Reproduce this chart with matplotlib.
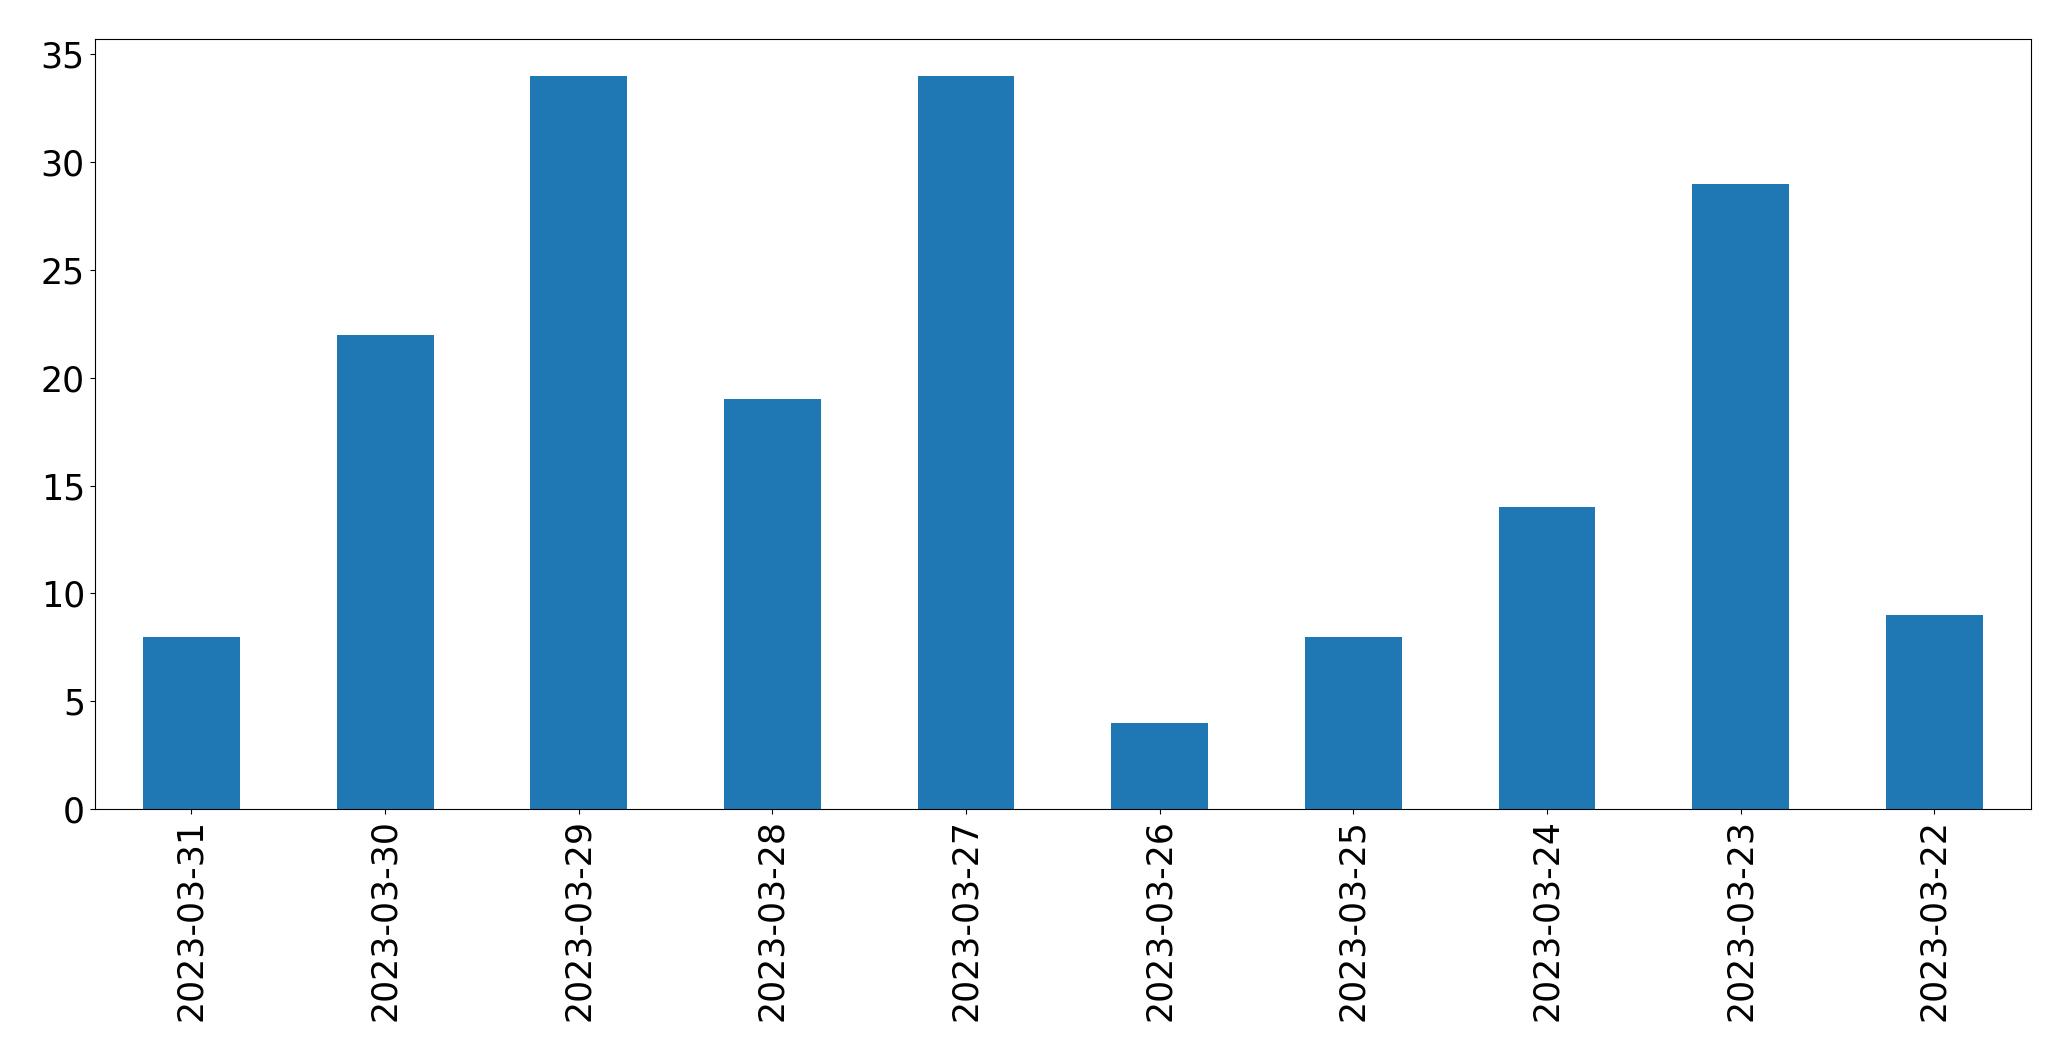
import matplotlib
matplotlib.use("Agg")
import matplotlib.pyplot as plt
import numpy as np

dates = ["2023-03-31", "2023-03-30", "2023-03-29", "2023-03-28", "2023-03-27",
         "2023-03-26", "2023-03-25", "2023-03-24", "2023-03-23", "2023-03-22"]
counts = [8, 22, 34, 19, 34, 4, 8, 14, 29, 9]

fig = plt.figure(figsize=(20.71, 10.61), dpi=100)
ax = fig.add_axes([0.0457, 0.2375, 0.935, 0.7255])

x = np.arange(len(dates))
ax.bar(x, counts, width=0.5, color="#1f77b4")
ax.set_xlim(-0.5, len(dates) - 0.5)
ax.set_ylim(0, max(counts) * 1.05)
ax.set_xticks(x)
ax.set_xticklabels(dates, rotation=90)
ax.tick_params(labelsize=25)

fig.savefig("out.png", dpi=100)
